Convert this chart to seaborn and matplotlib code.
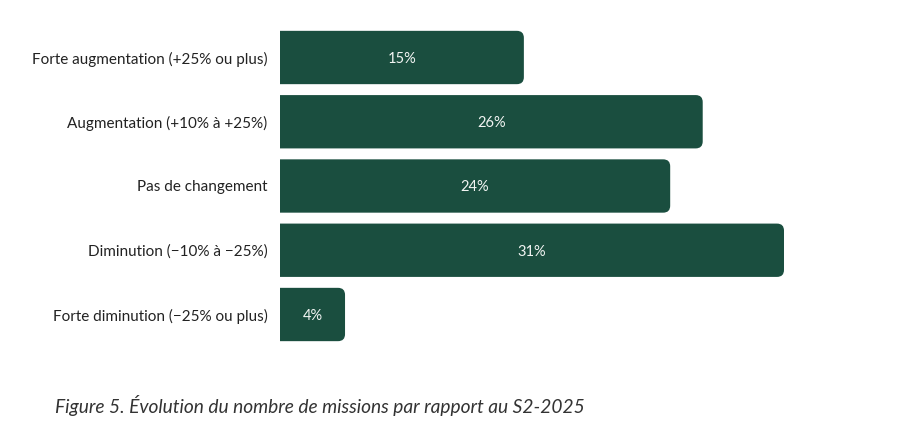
import matplotlib
matplotlib.use("Agg")
import matplotlib.pyplot as plt
import seaborn as sns
import pandas as pd
from matplotlib.path import Path
from matplotlib.patches import PathPatch

categories = [
    "Forte augmentation (+25% ou plus)",
    "Augmentation (+10% à +25%)",
    "Pas de changement",
    "Diminution (\u221210% à \u221225%)",
    "Forte diminution (\u221225% ou plus)",
]
values = [15, 26, 24, 31, 4]
value_labels = ["15%", "26%", "24%", "31%", "4%"]
caption = "Figure 5. Évolution du nombre de missions par rapport au S2-2025"

sns.set_theme(style="white")
plt.rcParams["font.family"] = ["Lato", "DejaVu Sans"]

W, H = 902, 422
fig = plt.figure(figsize=(W / 100, H / 100), dpi=100)
ax_left, ax_right = 280, 784
pitch = 64.25
top_center = 57.5
ax_top = top_center - pitch / 2
ax_bottom = ax_top + pitch * 5
ax = fig.add_axes([ax_left / W, 1 - ax_bottom / H, (ax_right - ax_left) / W, (ax_bottom - ax_top) / H])

df = pd.DataFrame({"cat": categories, "val": values})
green = "#1a4e3f"
sns.barplot(data=df, y="cat", x="val", orient="h", color=green, width=0.83,
            saturation=1, ax=ax, order=categories)
ax.set_xlim(0, 31)
ax.set_ylim(4.5, -0.5)

px_per_x = (ax_right - ax_left) / 31
px_per_y = pitch
r_px = 7
rx = r_px / px_per_x
ry = r_px / px_per_y

for p in list(ax.patches):
    x0, y0 = p.get_x(), p.get_y()
    w, h = p.get_width(), p.get_height()
    x1, y1 = x0 + w, y0 + h
    verts = [
        (x0, y0), (x1 - rx, y0),
        (x1, y0), (x1, y0 + ry),
        (x1, y1 - ry),
        (x1, y1), (x1 - rx, y1),
        (x0, y1), (x0, y0),
    ]
    codes = [Path.MOVETO, Path.LINETO, Path.CURVE3, Path.CURVE3, Path.LINETO,
             Path.CURVE3, Path.CURVE3, Path.LINETO, Path.CLOSEPOLY]
    ax.add_patch(PathPatch(Path(verts, codes), facecolor=green, edgecolor="none",
                           clip_on=False))
    p.set_visible(False)

for i, (v, lab) in enumerate(zip(values, value_labels)):
    ax.text(v / 2, i, lab, ha="center", va="center_baseline", color="#f2f5f3", fontsize=10.5)

ax.set_xlabel("")
ax.set_ylabel("")
ax.set_xticks([])
ax.tick_params(axis="y", length=0, pad=9, labelsize=11, labelcolor="#222222")
for lbl in ax.get_yticklabels():
    lbl.set_verticalalignment("center_baseline")
for s in ax.spines.values():
    s.set_visible(False)

fig.text(55 / W, 1 - 406 / H, caption, ha="left", va="center", style="italic",
         fontsize=13.8, color="#333333")

fig.savefig("out.png", dpi=100, facecolor="white")
